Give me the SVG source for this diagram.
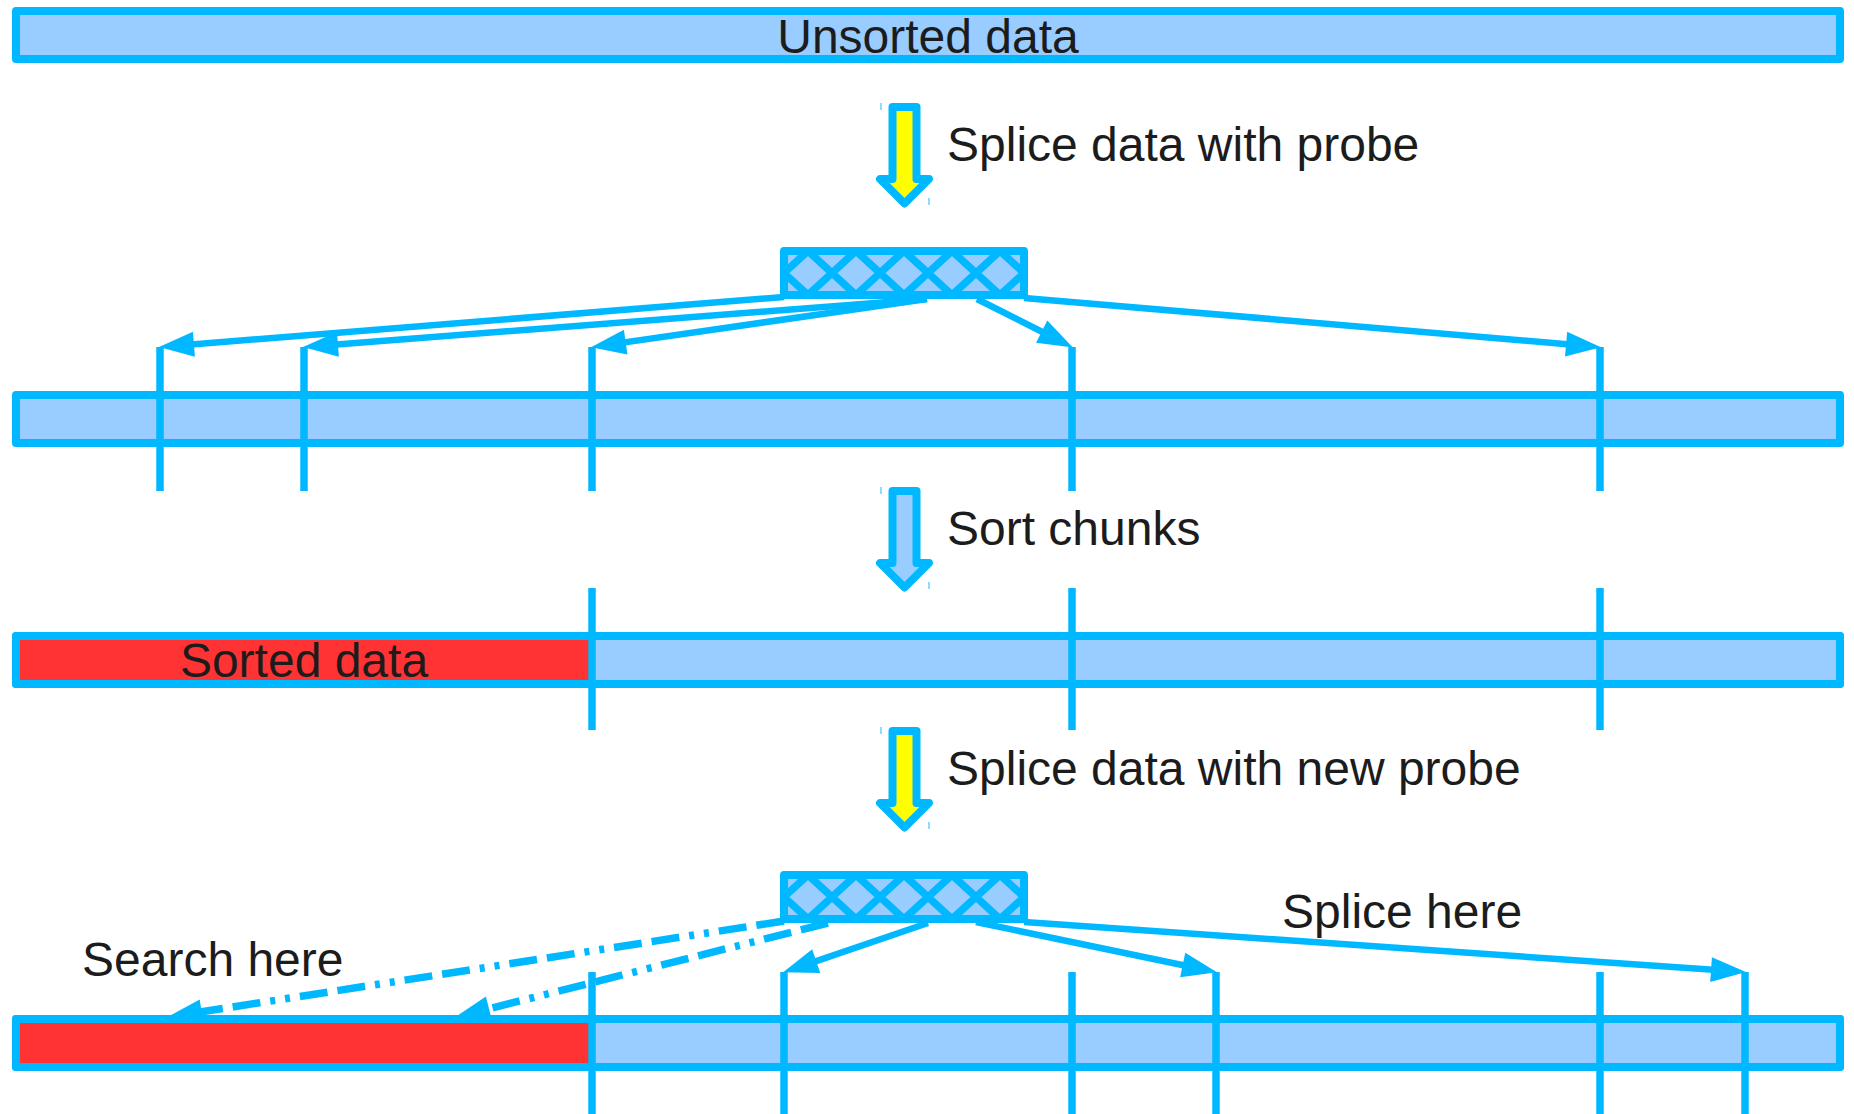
<svg xmlns="http://www.w3.org/2000/svg" xmlns:xlink="http://www.w3.org/1999/xlink" width="1854" height="1114" viewBox="0 0 1854 1114">
  <style>
    .bar { fill: #99ccff; stroke: #00b8ff; stroke-width: 8; stroke-linejoin: round; }
    .sorted { fill: #ff3333; stroke: none; }
    .outline { fill: none; stroke: #00b8ff; stroke-width: 8; stroke-linejoin: round; }
    .divider { stroke: #00b8ff; stroke-width: 7.5; fill: none; }
    .conn { stroke: #00b8ff; stroke-width: 6.5; fill: none; marker-end: url(#head); }
    .dashed { stroke-width: 7.5; stroke-dasharray: 28 10 28 10 5 10 5 10; }
    .block { stroke: #00b8ff; stroke-width: 8; stroke-linejoin: round; }
    .tick { stroke: #00b8ff; stroke-width: 1.3; opacity: 0.7; }
    .hatch { stroke: #00b8ff; stroke-width: 7.5; }
    .label { font-family: "Liberation Sans", Arial, sans-serif; font-size: 48px; fill: #1c1c1c; }
  </style>
  <defs>
    <marker id="head" markerUnits="userSpaceOnUse" markerWidth="36" markerHeight="26" refX="24" refY="12.5" orient="auto" overflow="visible">
      <path d="M0,0 L35,12.5 L0,25 Z" fill="#00b8ff"/>
    </marker>
    <clipPath id="probe-clip">
      <rect x="0" y="0" width="240" height="44"/>
    </clipPath>
    <!-- cross-hatched probe block, local origin at its top-left corner -->
    <g id="probe-shape">
      <rect x="0" y="0" width="240" height="44" fill="#99ccff"/>
      <g clip-path="url(#probe-clip)" class="hatch">
        <path d="M-24,0 L24,44 M24,0 L72,44 M72,0 L120,44 M120,0 L168,44 M168,0 L216,44 M216,0 L264,44
                 M24,0 L-24,44 M72,0 L24,44 M120,0 L72,44 M168,0 L120,44 M216,0 L168,44 M264,0 L216,44"/>
      </g>
      <rect x="0" y="0" width="240" height="44" class="outline" stroke-width="8"/>
    </g>
    <!-- downward block arrow -->
    <polygon id="down-arrow" class="block" points="892.5,107 916.5,107 916.5,179 929,179 904.5,203.5 880,179 892.5,179"/>
    <g id="arrow-ticks">
      <line class="tick" x1="881" y1="103" x2="881" y2="110"/>
      <line class="tick" x1="929" y1="198" x2="929" y2="205"/>
    </g>
  </defs>

  <!-- connectors -->
  <g id="connectors">
    <line class="conn" x1="784" y1="297" x2="170" y2="346.2"/>
    <line class="conn" x1="927" y1="299" x2="314" y2="346.2"/>
    <line class="conn" x1="927" y1="299" x2="601.9" y2="345.6"/>
    <line class="conn" x1="977" y1="299" x2="1063.1" y2="342.5"/>
    <line class="conn" x1="1024" y1="298" x2="1590" y2="346.2"/>
    <line class="conn" x1="928" y1="923" x2="793.5" y2="968.8"/>
    <line class="conn" x1="976" y1="922" x2="1206.2" y2="970"/>
    <line class="conn" x1="1024" y1="922" x2="1735" y2="971.3"/>
    <line class="conn dashed" x1="784" y1="921" x2="177.9" y2="1015.5"/>
    <line class="conn dashed" x1="828" y1="923" x2="465.7" y2="1014.6"/>
  </g>

  <g id="unsorted">
    <rect class="bar" x="16" y="11" width="1824" height="48"/>
    <text class="label" x="928" y="52.5" text-anchor="middle">Unsorted data</text>
  </g>

  <g id="step-splice">
    <use xlink:href="#down-arrow" href="#down-arrow" fill="#ffff00"/>
    <use xlink:href="#arrow-ticks" href="#arrow-ticks"/>
    <text class="label" x="947" y="161">Splice data with probe</text>
  </g>

  <g id="probe" transform="translate(784,251)">
    <use xlink:href="#probe-shape" href="#probe-shape"/>
  </g>

  <g id="spliced">
    <rect class="bar" x="16" y="395" width="1824" height="48"/>
    <line class="divider" x1="160" y1="347" x2="160" y2="491"/>
    <line class="divider" x1="304" y1="347" x2="304" y2="491"/>
    <line class="divider" x1="592" y1="347" x2="592" y2="491"/>
    <line class="divider" x1="1072" y1="347" x2="1072" y2="491"/>
    <line class="divider" x1="1600" y1="347" x2="1600" y2="491"/>
  </g>

  <g id="step-sort" transform="translate(0,384)">
    <use xlink:href="#down-arrow" href="#down-arrow" fill="#99ccff"/>
    <use xlink:href="#arrow-ticks" href="#arrow-ticks"/>
    <text class="label" x="947" y="161">Sort chunks</text>
  </g>

  <g id="sorted">
    <rect class="bar" x="16" y="636" width="1824" height="48"/>
    <rect class="sorted" x="16" y="636" width="576" height="48"/>
    <rect class="outline" x="16" y="636" width="1824" height="48"/>
    <text class="label" x="304" y="677" text-anchor="middle">Sorted data</text>
    <line class="divider" x1="592" y1="588" x2="592" y2="730"/>
    <line class="divider" x1="1072" y1="588" x2="1072" y2="730"/>
    <line class="divider" x1="1600" y1="588" x2="1600" y2="730"/>
  </g>

  <g id="step-splice-new" transform="translate(0,624)">
    <use xlink:href="#down-arrow" href="#down-arrow" fill="#ffff00"/>
    <use xlink:href="#arrow-ticks" href="#arrow-ticks"/>
    <text class="label" x="947" y="161">Splice data with new probe</text>
  </g>

  <g id="new-probe" transform="translate(784,875)">
    <use xlink:href="#probe-shape" href="#probe-shape"/>
  </g>

  <g id="resplice">
    <rect class="bar" x="16" y="1019" width="1824" height="48"/>
    <rect class="sorted" x="16" y="1019" width="576" height="48"/>
    <rect class="outline" x="16" y="1019" width="1824" height="48"/>
    <line class="divider" x1="592" y1="972" x2="592" y2="1114"/>
    <line class="divider" x1="784" y1="972" x2="784" y2="1114"/>
    <line class="divider" x1="1072" y1="972" x2="1072" y2="1114"/>
    <line class="divider" x1="1216" y1="972" x2="1216" y2="1114"/>
    <line class="divider" x1="1600" y1="972" x2="1600" y2="1114"/>
    <line class="divider" x1="1745" y1="972" x2="1745" y2="1114"/>
  </g>

  <g id="notes">
    <text class="label" x="82" y="976">Search here</text>
    <text class="label" x="1282" y="928">Splice here</text>
  </g>
</svg>
